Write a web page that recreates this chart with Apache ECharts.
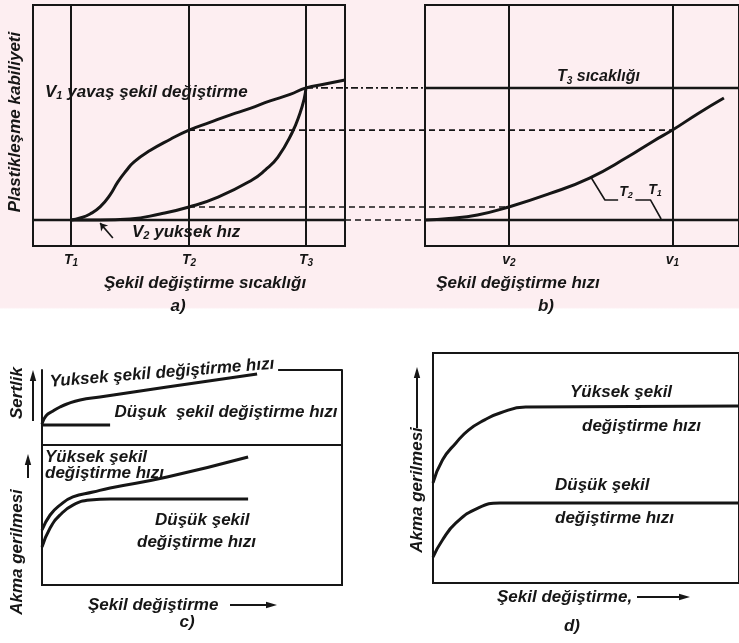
<!DOCTYPE html>
<html>
<head>
<meta charset="utf-8">
<script src="https://cdn.jsdelivr.net/npm/echarts@6/dist/echarts.min.js"></script>
<style>
  html, body { margin: 0; padding: 0; background: #fff; }
  #chart { width: 739px; height: 643px; }
</style>
</head>
<body>
<div id="chart"></div>
<script>
// ---------- (a) plasticity against deformation temperature ----------
const tempTickValues = [12.2, 50, 87.5];
const tempTickNames = ['T1', 'T2', 'T3'];
// plasticity levels reached at T1, at T2 (fast / slow), at T3
const levelT1 = 10.8;
const levelT2Fast = 16.2;
const levelT2Slow = 48.1;
const levelT3 = 65.6;
// V1 – slow deformation
const slowRateCurve = [
  [12.2, 10.8], [15.1, 11.6], [18.3, 13.3], [21.5, 16.2], [24.7, 21.2], [27.2, 26.6],
  [29.8, 31.1], [32.4, 34.9], [37.5, 39.6], [43.9, 44.2], [50, 48.1], [56.7, 51.3],
  [63.1, 54.3], [69.6, 57.1], [76, 60.2], [82.4, 62.9], [87.5, 65.6], [93.6, 67.2], [100, 68.9]
];
// V2 – high deformation rate
const fastRateCurve = [
  [12.2, 10.8], [21.5, 10.8], [31.1, 11.2], [40.7, 13.3], [50, 16.2], [59.3, 20.3],
  [70.2, 27.4], [74.4, 31.5], [78.5, 36.9], [83, 46.9], [85.6, 55.2],
  [86.9, 61], [87.5, 65.6]
];
const baseLevelA = [[0, 10.8], [100, 10.8]];
const v2Pointer = [[25.6, 3.3], [21.5, 9.5]];

// ---------- (b) plasticity against deformation rate ----------
const rateTickValues = [26.7, 78.8];
const rateTickNames = ['v2', 'v1'];
const t3RateLine = [[0, 65.6], [100, 65.6]];
const t1RateLine = [[0, 10.8], [100, 10.8]];
const t2RateCurve = [
  [0, 10.8], [7.6, 11.4], [16.7, 12.9], [26.7, 16.2], [39.4, 21.6], [52.4, 28.2],
  [64.5, 36.9], [72.7, 43.5], [78.8, 48.1], [87, 55], [95.2, 61.4]
];
const t2Leader = [[53, 28.2], [57.3, 19.1], [61.5, 19.1]];
const t1Leader = [[67, 19.1], [71.8, 19.1], [75.2, 11.2]];

// ---------- (c) hardness and flow stress against strain ----------
const hardnessHighRate = [
  [0, 28], [1.3, 38.7], [3.7, 45.3], [6, 50.7], [8.3, 54.7], [12.7, 60], [19.3, 64], [41.7, 77.3], [71.7, 94.7]
];
const hardnessLowRate = [[0, 26.7], [22.7, 26.7]];
const hardnessFrameTop = [[78.7, 100], [100, 100]];
const flowHighRateC = [
  [0, 39.3], [2.7, 50], [6, 57.1], [10.3, 62.9], [17, 66.4], [22.7, 69.3], [41.7, 77.1], [68.7, 91.4]
];
const flowLowRateC = [
  [0, 27.1], [2.7, 40.7], [6, 50], [10.3, 57.1], [16, 60.7], [22.7, 61.4], [68.7, 61.4]
];

// ---------- (d) flow stress against strain ----------
const flowHighRateD = [
  [0, 43.5], [3.1, 53.5], [7.5, 60.9], [11.6, 66.5], [16.9, 70.9], [21.9, 73.9], [30.3, 76.5], [100, 77]
];
const flowLowRateD = [
  [0, 11.3], [3.1, 18.7], [7.5, 26.1], [14.7, 32.6], [21.9, 34.8], [100, 34.8]
];

// ---------- styling helpers ----------
const INK = '#161616';
const PAPER_TINT = '#fdeef1';
const FONT = '"Liberation Sans", Arial, sans-serif';

function fontOf(size, extra) {
  return Object.assign({ fontFamily: FONT, fontStyle: 'italic', fontWeight: 'bold', fontSize: size, fill: INK }, extra || {});
}
function subRich(size) {
  return {
    m: fontOf(size, { lineHeight: size + 2 }),
    s: fontOf(Math.round(size * 0.62), { verticalAlign: 'bottom', lineHeight: size + 2 })
  };
}
function textEl(text, x, y, o) {
  o = o || {};
  const size = o.size || 17;
  const el = {
    type: 'text', x: x, y: y, rotation: o.rotation || 0, silent: true,
    style: Object.assign(fontOf(size), { text: text, align: o.align || 'left', verticalAlign: 'middle' })
  };
  if (o.rich) el.style.rich = o.rich;
  return el;
}
function arrowEl(x1, y1, x2, y2) {
  const ang = Math.atan2(y2 - y1, x2 - x1), L = 11, W = 3.2;
  const bx = x2 - L * Math.cos(ang), by = y2 - L * Math.sin(ang);
  const px = -Math.sin(ang) * W, py = Math.cos(ang) * W;
  return [
    { type: 'line', silent: true, shape: { x1: x1, y1: y1, x2: bx, y2: by }, style: { stroke: INK, lineWidth: 2 } },
    { type: 'polygon', silent: true, shape: { points: [[x2, y2], [bx + px, by + py], [bx - px, by - py]] }, style: { fill: INK } }
  ];
}
function tickLabel(values, names) {
  return {
    customValues: values,
    margin: 6,
    formatter: function (v) {
      const n = names[values.indexOf(v)] || '';
      return '{t|' + n.charAt(0) + '}{s|' + n.slice(1) + '}';
    },
    rich: {
      t: { fontFamily: FONT, fontStyle: 'italic', fontWeight: 'bold', fontSize: 14, color: INK, lineHeight: 16 },
      s: { fontFamily: FONT, fontStyle: 'italic', fontWeight: 'bold', fontSize: 10, color: INK, lineHeight: 16, verticalAlign: 'bottom' }
    }
  };
}
function hiddenX(gi) {
  return { gridIndex: gi, type: 'value', min: 0, max: 100, show: false };
}
function hiddenY(gi) {
  return { gridIndex: gi, type: 'value', min: 0, max: 100, show: false };
}
function frameY(gi, pos) {
  return {
    gridIndex: gi, type: 'value', min: 0, max: 100, position: pos,
    axisLine: { show: true, lineStyle: { color: INK, width: 2 } },
    axisTick: { show: false }, axisLabel: { show: false }, splitLine: { show: false }
  };
}
function curve(data, xi, yi, width, smooth) {
  return {
    type: 'line', data: data, xAxisIndex: xi, yAxisIndex: yi,
    smooth: smooth === false ? false : 0.5,
    symbol: 'none', silent: true, z: 3,
    lineStyle: { color: INK, width: width || 3 }
  };
}
function verticals(values) {
  return {
    symbol: 'none', silent: true, animation: false,
    label: { show: false },
    lineStyle: { color: INK, width: 2, type: 'solid' },
    data: values.map(function (v) { return { xAxis: v }; })
  };
}

const frame = { show: true, borderColor: INK, borderWidth: 2, backgroundColor: 'transparent' };

const option = {
  animation: false,
  backgroundColor: new echarts.graphic.LinearGradient(0, 0, 0, 1, [
    { offset: 0, color: PAPER_TINT }, { offset: 0.478, color: PAPER_TINT },
    { offset: 0.481, color: '#ffffff' }, { offset: 1, color: '#ffffff' }
  ]),
  grid: [
    Object.assign({ left: 33, top: 5, width: 312, height: 241 }, frame),   // a
    Object.assign({ left: 425, top: 5, width: 330, height: 241 }, frame),  // b
    { left: 42, top: 370, width: 300, height: 75, show: false },          // c, hardness
    Object.assign({ left: 42, top: 445, width: 300, height: 140 }, frame), // c, flow stress
    Object.assign({ left: 433, top: 353, width: 320, height: 230 }, frame), // d
    { left: 0, top: 5, width: 739, height: 241, show: false }              // band joining a and b
  ],
  xAxis: [
    { gridIndex: 0, type: 'value', min: 0, max: 100, axisLine: { show: false }, axisTick: { show: false },
      splitLine: { show: false }, axisLabel: tickLabel(tempTickValues, tempTickNames) },
    { gridIndex: 1, type: 'value', min: 0, max: 100, axisLine: { show: false }, axisTick: { show: false },
      splitLine: { show: false }, axisLabel: tickLabel(rateTickValues, rateTickNames) },
    hiddenX(2), hiddenX(3), hiddenX(4), hiddenX(5)
  ],
  yAxis: [
    hiddenY(0), hiddenY(1), frameY(2, 'left'), frameY(2, 'right'), hiddenY(3), hiddenY(4), hiddenY(5)
  ],
  series: [
    // (a)
    Object.assign(curve(baseLevelA, 0, 0, 2.5, false), { markLine: verticals(tempTickValues) }),
    curve(slowRateCurve, 0, 0, 3),
    curve(fastRateCurve, 0, 0, 3),
    {
      type: 'line', data: [], xAxisIndex: 0, yAxisIndex: 0, silent: true,
      markLine: {
        silent: true, animation: false, symbol: ['none', 'arrow'], symbolSize: 7,
        label: { show: false }, lineStyle: { color: INK, width: 1.6, type: 'solid' },
        data: [[{ coord: v2Pointer[0] }, { coord: v2Pointer[1] }]]
      }
    },
    // (b)
    Object.assign(curve(t1RateLine, 1, 1, 2.5, false), { markLine: verticals(rateTickValues) }),
    curve(t3RateLine, 1, 1, 2.5, false),
    curve(t2RateCurve, 1, 1, 3),
    curve(t2Leader, 1, 1, 1.6, false),
    curve(t1Leader, 1, 1, 1.6, false),
    // (c)
    curve(hardnessHighRate, 2, 2, 3),
    curve(hardnessLowRate, 2, 2, 3, false),
    curve(hardnessFrameTop, 2, 2, 2, false),
    curve(flowHighRateC, 3, 4, 3),
    curve(flowLowRateC, 3, 4, 3),
    // (d)
    curve(flowHighRateD, 4, 5, 3),
    curve(flowLowRateD, 4, 5, 3)
  ],
  graphic: { elements: [] }
};

// text and arrows
const g = option.graphic.elements;
const R17 = subRich(17), R16 = subRich(16), R14 = subRich(14);
// (a)
g.push(textEl('Plastikleşme kabiliyeti', 15, 122, { align: 'center', rotation: Math.PI / 2 }));
g.push(textEl('{m|V}{s|1}{m| yavaş şekil değiştirme}', 45, 92, { rich: R17 }));
g.push(textEl('{m|V}{s|2}{m| yuksek hız}', 132, 232, { rich: R17 }));
g.push(textEl('Şekil değiştirme sıcaklığı', 205, 283, { align: 'center' }));
g.push(textEl('a)', 178, 306, { align: 'center' }));
// (b)
g.push(textEl('{m|T}{s|3}{m| sıcaklığı}', 557, 77, { rich: R16 }));
g.push(textEl('{m|T}{s|2}', 626, 192, { align: 'center', rich: R14 }));
g.push(textEl('{m|T}{s|1}', 655, 190, { align: 'center', rich: R14 }));
g.push(textEl('Şekil değiştirme hızı', 518, 283, { align: 'center' }));
g.push(textEl('b)', 546, 306, { align: 'center' }));
// (c)
g.push(textEl('Sertlik', 17, 393, { align: 'center', rotation: Math.PI / 2 }));
g.push.apply(g, arrowEl(33, 421, 33, 370));
g.push(textEl('Akma gerilmesi', 17, 552, { align: 'center', rotation: Math.PI / 2 }));
g.push.apply(g, arrowEl(28, 478, 28, 454));
g.push(textEl('Yuksek şekil değiştirme hızı', 162, 373, { align: 'center', rotation: 0.08 }));
g.push(textEl('Düşuk  şekil değiştirme hızı', 226, 412, { align: 'center' }));
g.push(textEl('Yüksek şekil', 45, 457));
g.push(textEl('değiştirme hızı', 45, 473));
g.push(textEl('Düşük şekil', 155, 520));
g.push(textEl('değiştirme hızı', 137, 542));
g.push(textEl('Şekil değiştirme', 88, 605));
g.push.apply(g, arrowEl(230, 605, 277, 605));
g.push(textEl('c)', 187, 622, { align: 'center' }));
// (d)
g.push(textEl('Akma gerilmesi', 417, 490, { align: 'center', rotation: Math.PI / 2 }));
g.push.apply(g, arrowEl(417, 428, 417, 367));
g.push(textEl('Yüksek şekil', 570, 392));
g.push(textEl('değiştirme hızı', 582, 426));
g.push(textEl('Düşük şekil', 555, 485));
g.push(textEl('değiştirme hızı', 555, 518));
g.push(textEl('Şekil değiştirme,', 497, 597));
g.push.apply(g, arrowEl(637, 597, 690, 597));
g.push(textEl('d)', 572, 626, { align: 'center' }));

const chart = echarts.init(document.getElementById('chart'), null, { renderer: 'canvas' });
chart.setOption(option);

// projection lines carrying the levels of (a) across into (b), drawn in the joining band
function toBand(gridIndex, point) {
  const px = chart.convertToPixel({ gridIndex: gridIndex }, point);
  return chart.convertFromPixel({ gridIndex: 5 }, px);
}
function projection(fromA, toB, dash) {
  return {
    type: 'line', xAxisIndex: 5, yAxisIndex: 6, silent: true, symbol: 'none', z: 2,
    data: [toBand(0, fromA), toBand(1, toB)],
    lineStyle: { color: INK, width: 1.6, type: dash }
  };
}
option.series.push(
  projection([tempTickValues[2], levelT3], [0, levelT3], [7, 3, 2, 3]),
  projection([tempTickValues[1], levelT2Slow], [rateTickValues[1], levelT2Slow], [6, 4]),
  projection([tempTickValues[1], levelT2Fast], [rateTickValues[0], levelT2Fast], [6, 4]),
  projection([100, levelT1], [0, levelT1], [6, 4])
);
chart.setOption(option);
</script>
</body>
</html>
